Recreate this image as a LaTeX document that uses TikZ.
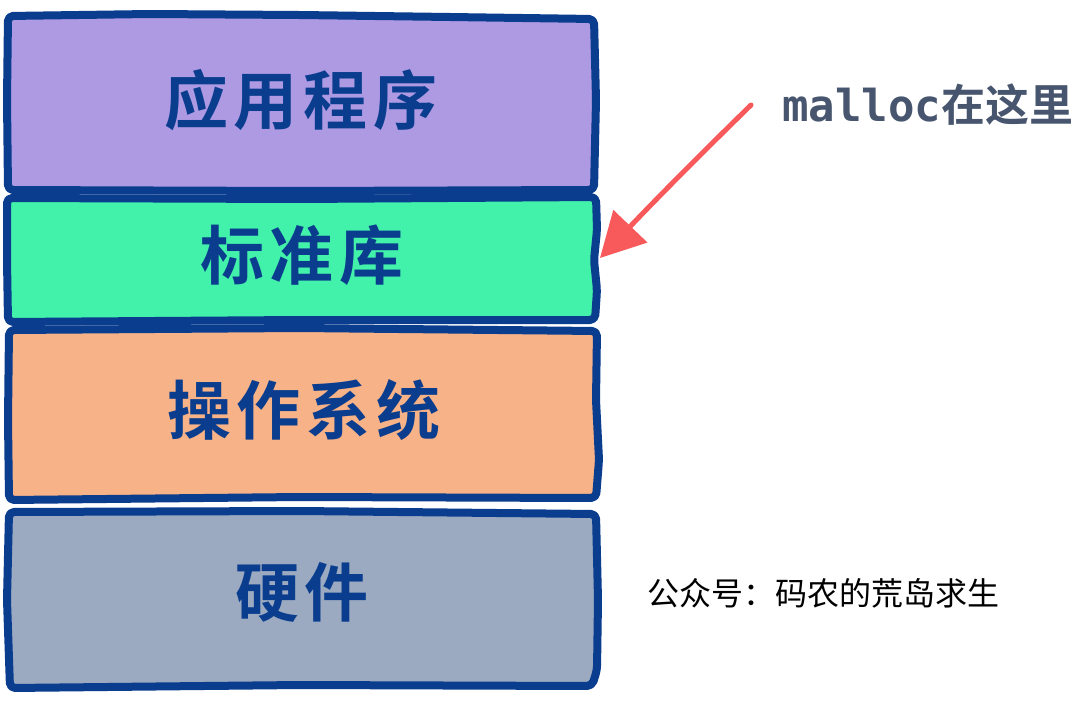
\documentclass[tikz,border=0pt]{standalone}
\usepackage{fontspec}
\usetikzlibrary{arrows.meta}
\newfontfamily\cjk{Noto Sans CJK SC}[BoldFont={Noto Sans CJK SC Bold}]
\newfontfamily\monof{DejaVu Sans Mono}
\definecolor{edgeblue}{HTML}{0A3D8E}
\definecolor{appfill}{HTML}{AE99E3}
\definecolor{libfill}{HTML}{43F2AA}
\definecolor{osfill}{HTML}{F8B287}
\definecolor{hwfill}{HTML}{9BAAC0}
\definecolor{arrowred}{HTML}{F85A5C}
\definecolor{notegray}{HTML}{47556E}
\tikzset{
  layerbox/.style={draw=edgeblue, line width=8pt, rounded corners=5pt, line join=round},
  layerlabel/.style={text=edgeblue, font=\cjk\bfseries\fontsize{64}{70}\selectfont, inner sep=0pt},
  pointer/.style={draw=arrowred, line width=5pt, line cap=round, -{Triangle[length=44pt,width=46pt]}},
}
\begin{document}
\begin{tikzpicture}[x=1pt,y=-1pt]
\fill[white] (0,0) rectangle (1083,701);
\path[use as bounding box] (0,0) rectangle (1083,701);

% layers
\filldraw[layerbox, fill=appfill] (8,16) -- (150,14) -- (300,15) -- (450,17) -- (594,19) -- (596,100) -- (594,190) -- (300,191) -- (8,190) -- (7,100) -- cycle;
\filldraw[layerbox, fill=libfill] (7,198) -- (300,199) -- (596,197) -- (597,230) -- (594,260) -- (597,290) -- (595,320) -- (300,320) -- (8,322) -- (7,260) -- cycle;
\filldraw[layerbox, fill=osfill] (9,330) -- (300,328) -- (597,331) -- (596,400) -- (599,460) -- (596,498) -- (300,497) -- (9,500) -- (8,420) -- cycle;
\filldraw[layerbox, fill=hwfill] (9,512) -- (300,511) -- (596,514) -- (598,600) -- (597,670) -- (592,686) -- (300,685) -- (10,688) -- (7,600) -- cycle;

\node[layerlabel] (app) at (301,100) {应\kern6pt 用\kern6pt 程\kern6pt 序};
\node[layerlabel] (lib) at (302,255) {标\kern6pt 准\kern6pt 库};
\node[layerlabel] (os) at (304,410) {操\kern6pt 作\kern6pt 系\kern6pt 统};
\node[layerlabel] (hw) at (302,592) {硬\kern6pt 件};

% note and arrow
\node[anchor=west, inner sep=0pt, text=notegray] (note) at (782,105)
  {{\monof\bfseries\fontsize{44}{50}\selectfont malloc}{\cjk\bfseries\fontsize{44}{50}\selectfont 在这里}};
\coordinate (from) at (751,105);
\coordinate (libright) at (600,258);
\draw[pointer] (from) .. controls (705,150) and (665,190) .. (libright);

\node[anchor=west, inner sep=0pt, text=black, font=\cjk\fontsize{32}{36}\selectfont] (caption) at (647,593) {公众号：码农的荒岛求生};
\end{tikzpicture}
\end{document}
